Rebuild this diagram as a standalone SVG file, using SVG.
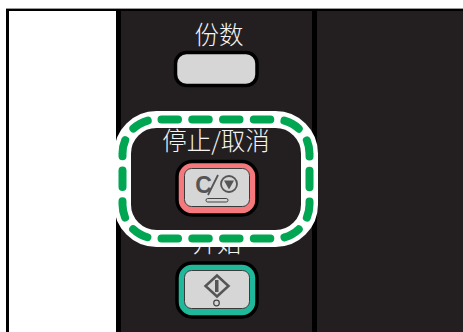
<svg xmlns="http://www.w3.org/2000/svg" width="463" height="332" viewBox="0 0 463 332">
<style>
.lbl{font-family:"Noto Sans CJK SC","Liberation Sans",sans-serif;font-size:24.500px;font-weight:300;fill:#f4f4f4;text-anchor:middle}
.face{fill:#d6d6d6;stroke:#3a3a3a;stroke-width:1}
.outer{stroke:#000;stroke-width:3.500}
</style>
<rect width="463" height="332" fill="#fff"/>
<g id="panel">
<rect x="6" y="8" width="457" height="324" fill="#000"/>
<rect x="6" y="8" width="457" height="1" fill="#9a9a9a"/>
<rect x="9" y="11" width="107" height="321" fill="#fff"/>
<rect x="121" y="11" width="191" height="321" fill="#231f20"/>
<rect x="317" y="11" width="146" height="321" fill="#231f20"/>
</g>
<g id="copies">
<text class="lbl" x="219" y="44">份数</text>
<rect x="175.500" y="52.500" width="81.500" height="33" rx="11" fill="#d6d6d6" class="outer"/>
</g>
<g id="stop">
<text class="lbl" x="216" y="150">停止/取消</text>
<rect x="177" y="161.500" width="80" height="53.500" rx="15" fill="#f4787c" class="outer"/>
<rect x="184.500" y="168.500" width="65" height="38" rx="7" class="face"/>
<text x="203.500" y="193" font-family="Liberation Sans,sans-serif" font-size="23" font-weight="700" fill="#555" text-anchor="middle">C</text>
<path d="M218 175 L208 195" stroke="#555" stroke-width="1.800" fill="none"/>
<circle cx="229" cy="184" r="8" fill="none" stroke="#555" stroke-width="1.800"/>
<path d="M224 180.500 H234 L229 189.500 Z" fill="#555"/>
<rect x="206" y="198.500" width="22" height="3.500" rx="1.700" fill="#d6d6d6" stroke="#444" stroke-width="1"/>
</g>
<g id="start">
<text class="lbl" x="217" y="252">开始</text>
<rect x="177" y="263" width="80" height="54" rx="15" fill="#20b89a" class="outer"/>
<rect x="184.500" y="270.500" width="65" height="38" rx="7" class="face"/>
<path d="M217 275.500 L228.500 286 L217 296.500 L205.500 286 Z" fill="none" stroke="#555" stroke-width="2.500"/>
<rect x="215" y="280" width="3.500" height="12" fill="#555"/>
<circle cx="216.500" cy="303" r="2.800" fill="none" stroke="#444" stroke-width="1.200"/>
</g>
<g id="highlight" fill="none">
<rect x="122.500" y="119.500" width="187" height="119" rx="34" stroke="#fff" stroke-width="17"/>
<rect x="122.500" y="119.500" width="187" height="119" rx="34" stroke="#00a651" stroke-width="8" stroke-linecap="round" stroke-dasharray="16.500 14.260" stroke-dashoffset="-5"/>
</g>
</svg>
